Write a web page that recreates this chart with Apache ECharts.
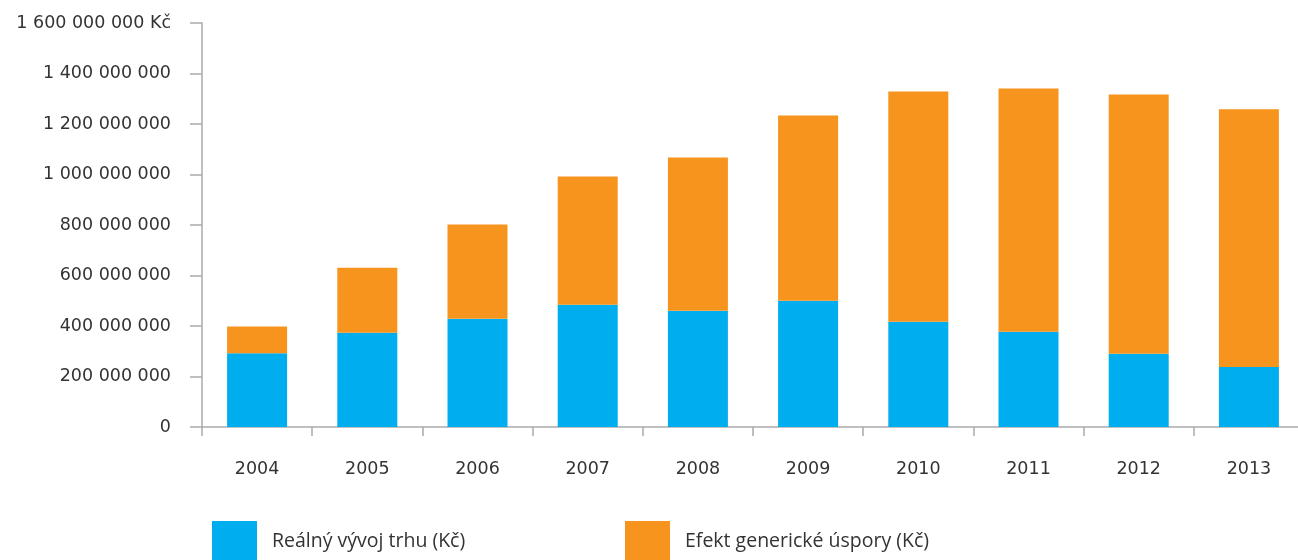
<!DOCTYPE html>
<html>
<head>
<meta charset="utf-8">
<script src="https://cdn.jsdelivr.net/npm/echarts@6/dist/echarts.min.js"></script>
<style>
  html, body { margin: 0; padding: 0; background: #fff; overflow: hidden; }
  #main { width: 1306px; height: 560px; }
</style>
</head>
<body>
<div id="main"></div>
<script>
// roky
var years = ['2004', '2005', '2006', '2007', '2008', '2009', '2010', '2011', '2012', '2013'];
// hodnoty v milionech Kč
var realnyVyvoj = [292, 373, 429, 484, 460, 500, 417, 377, 290, 238];
var efektUspory = [106, 258, 373, 508, 607, 734, 912, 964, 1027, 1020];
var seriesNames = ['Reálný vývoj trhu (Kč)', 'Efekt generické úspory (Kč)'];
var colors = ['#00adee', '#f7941e'];

var M = 1000000;
function fmt(v) {
  var s = String(Math.round(v));
  return s.replace(/\B(?=(\d{3})+(?!\d))/g, ' ');
}

// graf je o kousek širší než okno, osa x končí až za pravým okrajem
var chart = echarts.init(document.getElementById('main'));

var legendText = {
  fontFamily: '"Liberation Sans Narrow", "Open Sans", sans-serif',
  fontSize: 19.5,
  color: '#333',
  padding: [0, 0, 0, 10]
};

chart.setOption({
  animation: false,
  color: colors,
  textStyle: { fontFamily: '"DejaVu Sans", sans-serif' },
  grid: { left: 202, right: 2, top: 23, bottom: 133, containLabel: false },
  legend: [
    {
      data: [seriesNames[0]], left: 207, top: 516,
      itemWidth: 45, itemHeight: 40, icon: 'rect', itemGap: 0,
      textStyle: legendText, selectedMode: false
    },
    {
      data: [seriesNames[1]], left: 620, top: 516,
      itemWidth: 45, itemHeight: 40, icon: 'rect', itemGap: 0,
      textStyle: legendText, selectedMode: false
    }
  ],
  xAxis: {
    type: 'category',
    data: years,
    axisLine: { lineStyle: { color: '#aaa', width: 1.5 } },
    axisTick: { show: true, length: 9, lineStyle: { color: '#aaa', width: 1.5 } },
    axisLabel: { color: '#333', fontSize: 17.5, margin: 33 }
  },
  yAxis: {
    type: 'value',
    min: 0,
    max: 1600 * M,
    interval: 200 * M,
    splitLine: { show: false },
    axisLine: { show: true, lineStyle: { color: '#aaa', width: 1.5 } },
    axisTick: { show: true, length: 12, lineStyle: { color: '#aaa', width: 1.5 } },
    axisLabel: {
      color: '#333', fontSize: 17.5, margin: 31,
      formatter: function (v) {
        return v === 1600 * M ? fmt(v) + ' Kč' : fmt(v);
      }
    }
  },
  series: [
    {
      name: seriesNames[0], type: 'bar', stack: 'a', barWidth: 60,
      data: realnyVyvoj.map(function (v) { return v * M; })
    },
    {
      name: seriesNames[1], type: 'bar', stack: 'a', barWidth: 60,
      data: efektUspory.map(function (v) { return v * M; })
    }
  ]
});
</script>
</body>
</html>
